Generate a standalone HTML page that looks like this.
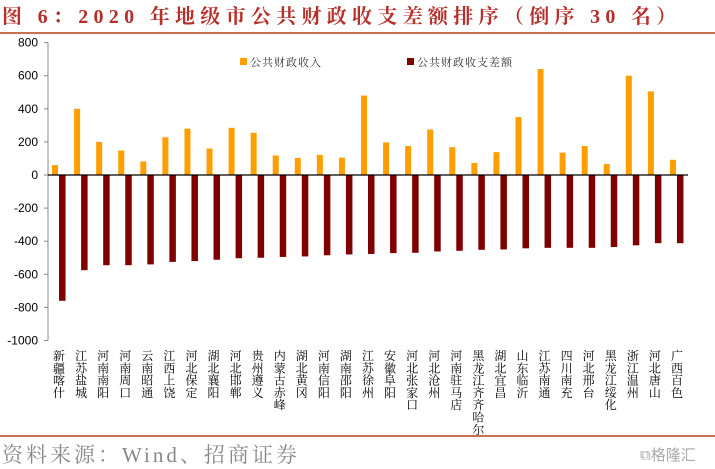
<!DOCTYPE html>
<html><head><meta charset="utf-8"><style>
body{margin:0;width:715px;height:468px;background:#fff;overflow:hidden;font-family:"Liberation Serif","Noto Serif CJK SC",serif}
</style></head><body>
<div style="position:absolute;left:2px;top:0px;font-size:20px;letter-spacing:5.3px;font-weight:bold;color:#b5302a;font-family:'Liberation Serif','Noto Serif CJK SC',serif;white-space:nowrap">图 6：2020 年地级市公共财政收支差额排序（倒序 30 名）</div>
<div style="position:absolute;left:0;top:32px;width:715px;height:2px;background:#c8704f"></div>
<div style="position:absolute;left:0;top:435px;width:715px;height:2px;background:#c8704f"></div>
<div style="position:absolute;left:2px;top:439px;font-size:21px;letter-spacing:3px;color:#888;white-space:nowrap">资料来源：Wind、招商证券</div>
<div style="position:absolute;left:640px;top:444px;font-size:15px;color:#aaa;font-family:'Liberation Sans','Noto Sans CJK SC',sans-serif">⧉格隆汇</div>
<svg id="c" width="715" height="468" style="position:absolute;left:0;top:0"></svg>
<script>
const categories=["新疆:喀什","江苏:盐城","河南:南阳","河南:周口","云南:昭通","江西:上饶","河北:保定","湖北:襄阳","河北:邯郸","贵州:遵义","内蒙古:赤峰","湖北:黄冈","河南:信阳","湖南:邵阳","江苏:徐州","安徽:阜阳","河北:张家口","河北:沧州","河南:驻马店","黑龙江:齐齐哈尔","湖北:宜昌","山东:临沂","江苏:南通","四川:南充","河北:邢台","黑龙江:绥化","浙江:温州","河北:唐山","广西:百色"];
const income=[60,400,200,148,82,228,280,160,285,255,118,103,122,105,480,197,175,275,168,73,138,350,640,135,175,67,600,505,92];
const deficit=[-760,-575,-545,-545,-540,-525,-520,-512,-503,-500,-495,-492,-485,-480,-477,-472,-470,-462,-458,-452,-450,-443,-440,-440,-440,-435,-425,-412,-412];
const ticks=[800,600,400,200,0,-200,-400,-600,-800,-1000];
const NS="http://www.w3.org/2000/svg",svg=document.getElementById('c');
const x0=48,x1=688,y=v=>175-v*0.1655,band=(x1-x0)/categories.length;
function mk(t,a,p){const e=document.createElementNS(NS,t);for(const k in a)e.setAttribute(k,a[k]);(p||svg).appendChild(e);return e;}
let ax=mk('line',{x1:x0,y1:y(800),x2:x0,y2:y(-1000),stroke:'#888'});


ticks.forEach(t=>{
 let l=mk('line',{x1:x0-4,x2:x0,y1:y(t),y2:y(t),stroke:'#888'});
 
 
 let tx=mk('text',{x:x0-10,y:y(t)+4,'text-anchor':'end','font-size':12,'font-family':'Liberation Sans,sans-serif',fill:'#000'});
 tx.textContent=t;
 
 
});
categories.forEach((c,i)=>{
 const cx=x0+band*(i+0.5);
 let b=mk('rect',{x:cx-7,y:y(income[i]),width:6,height:y(0)-y(income[i]),fill:'#ff9e00'});
 
 
 let d=mk('rect',{x:cx,y:y(0),width:6.5,height:y(deficit[i])-y(0),fill:'#7f0000'});
 
 
 const chars=c.split('');
 let g=mk('text',{'font-size':12,'font-family':'Liberation Serif,Noto Serif CJK SC,serif',fill:'#000','text-anchor':'middle'});
 
 
 let yy=348;
 chars.forEach(ch=>{
  if(ch===':'){let s=mk('tspan',{x:cx,y:yy+2,'font-size':7},g);s.textContent=':';}
  else{let s=mk('tspan',{x:cx,y:yy+12},g);s.textContent=ch;yy+=12.3;}
 });
});
let zl=mk('line',{x1:x0,x2:x1,y1:y(0),y2:y(0),stroke:'#000','stroke-width':1.2});


[[240,'#ff9e00','公共财政收入','legend-income'],[407,'#7f0000','公共财政收支差额','legend-deficit']].forEach(L=>{
 let r=mk('rect',{x:L[0],y:58,width:7,height:7,fill:L[1]});
 
 
 let t=mk('text',{x:L[0]+10,y:66,'font-size':11,'font-family':'Liberation Serif,Noto Serif CJK SC,serif',fill:'#333','letter-spacing':1});
 t.textContent=L[2];
 
 
});
</script>
</body></html>
